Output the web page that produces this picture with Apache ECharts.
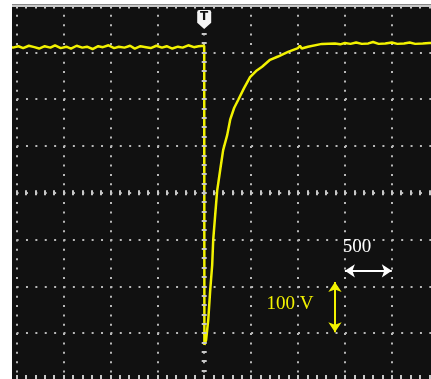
<!DOCTYPE html>
<html><head><meta charset="utf-8">
<script src="https://cdn.jsdelivr.net/npm/echarts@6/dist/echarts.min.js"></script>
<style>html,body{margin:0;padding:0;background:#fff;}#c{width:431px;height:379px;}</style>
</head><body><div id="c"></div>
<script>
// time in microseconds (0 = trigger), voltage in volts
const timeUs = [-2100,-2040,-1980,-1930,-1870,-1810,-1760,-1700,-1640,-1590,-1530,-1470,-1420,-1360,-1300,-1250,-1190,-1130,-1080,-1020,-960,-910,-850,-790,-740,-680,-620,-570,-510,-450,-400,-340,-280,-230,-170,-110,-60,0,
  2,20,43,64,85,96,117,138,170,202,245,277,319,362,426,489,553,617,702,787,894,1000,1020,1040,1106,1255,1394,
  1450,1500,1560,1620,1680,1750,1800,1860,1930,2000,2060,2130,2190,2250,2330,2400,2500];
const voltsV = [314,310,313,309,314,311,308,313,310,315,309,312,308,314,310,312,307,313,311,315,309,312,310,314,308,313,311,309,314,310,313,308,312,310,315,311,313,314,
  -325,-315,-272,-208,-155,-101,-48,4,48,91,123,156,181,198,224,247,260,269,284,291,301,309,314,308,312,318,319,
  317,320,318,321,318,319,322,318,319,321,318,319,321,318,319,320,319];
const timeDiv = 500;      // µs per division
const voltDiv = 100;      // V per division
const timeLabel = '500';
const voltLabel = '100 V';
const triggerLabel = 'T';

const series = timeUs.map((t, i) => [t, voltsV[i]]);
const tickCol = '#c8c8c8';
const dotCol = '#b8b8b8';
const hide = {axisLabel:{show:false}, splitLine:{show:false}};
const noLine = {show:false, onZero:false};

const chart = echarts.init(document.getElementById('c'), null, {renderer:'canvas'});
chart.setOption({
  animation: false,
  backgroundColor: '#111111',
  grid: {left: -30.3, top: 5.5, width: 469, height: 374.4, containLabel: false, outerBoundsMode: 'none'},
  xAxis: [
    {type:'value', min:-5*timeDiv, max:5*timeDiv, interval:timeDiv, position:'bottom',
     axisLine:noLine, axisLabel:{show:false},
     axisTick:{show:true, inside:true, length:5, lineStyle:{color:tickCol, width:2}},
     minorTick:{show:true, splitNumber:5, length:5, lineStyle:{color:tickCol, width:2}},
     splitLine:{show:true, lineStyle:{color:dotCol, width:2, type:[2,7.36]}}},
    Object.assign({type:'value', min:-5*timeDiv, max:5*timeDiv, interval:timeDiv, position:'top'}, hide, {
     axisLine:{show:true, onZero:false, lineStyle:{color:tickCol, width:2}},
     axisTick:{show:true, inside:true, length:3, lineStyle:{color:tickCol, width:2}},
     minorTick:{show:true, splitNumber:5, length:3, lineStyle:{color:tickCol, width:2}}}),
    Object.assign({type:'value', min:-5*timeDiv, max:5*timeDiv, interval:timeDiv, position:'top', offset:-184.7, z:3}, hide, {
     axisLine:noLine,
     axisTick:{show:true, inside:true, length:5, lineStyle:{color:tickCol, width:2}},
     minorTick:{show:true, splitNumber:5, length:5, lineStyle:{color:tickCol, width:2}}})
  ],
  yAxis: [
    {type:'value', min:-4*voltDiv, max:4*voltDiv, interval:voltDiv, position:'left',
     axisLine:noLine, axisLabel:{show:false}, axisTick:{show:false},
     splitLine:{show:true, lineStyle:{color:dotCol, width:2, type:[2,7.38]}}},
    Object.assign({type:'value', min:-4*voltDiv, max:4*voltDiv, interval:voltDiv, position:'left', offset:-232, z:3}, hide, {
     axisLine:noLine,
     axisTick:{show:true, inside:true, length:5, lineStyle:{color:tickCol, width:2}},
     minorTick:{show:true, splitNumber:5, length:5, lineStyle:{color:tickCol, width:2}}})
  ],
  series: [{
    type:'line', xAxisIndex:0, yAxisIndex:0, data: series, showSymbol:false, symbol:'none',
    lineStyle:{color:'#f2f200', width:2.5}, z:2,
    markLine: {
      silent:true, animation:false, symbol:['arrow','arrow'], symbolSize:[10,10],
      label:{show:false},
      data: [
        [{coord:[3*timeDiv,-167], lineStyle:{color:'#ffffff', width:2, type:'solid'}, itemStyle:{color:'#ffffff'}}, {coord:[4*timeDiv,-167]}],
        [{coord:[1394,-191], lineStyle:{color:'#f2f200', width:2, type:'solid'}, itemStyle:{color:'#f2f200'}}, {coord:[1394,-298]}]
      ]
    },
    markPoint: {
      silent:true, animation:false,
      data: [
        {coord:[0,370], symbol:'path://M2,0 L12,0 Q14,0 14,2 L14,12 L7,18 L0,12 L0,2 Q0,0 2,0 Z', symbolSize:[14,19],
         itemStyle:{color:'#f4f4f4'},
         label:{show:true, formatter:triggerLabel, color:'#111', fontWeight:'bold', fontSize:12, fontFamily:'DejaVu Sans', offset:[0,-3]}},
        {coord:[1628,-116], symbol:'circle', symbolSize:0,
         label:{show:true, formatter:timeLabel, color:'#ffffff', fontSize:19, fontFamily:'Liberation Serif'}},
        {coord:[915,-238], symbol:'circle', symbolSize:0,
         label:{show:true, formatter:voltLabel, color:'#f2f200', fontSize:19, fontFamily:'Liberation Serif'}}
      ]
    }
  }],
  graphic: [
    {type:'rect', shape:{x:0, y:0, width:431, height:4.5}, style:{fill:'#ffffff'}, z:100, silent:true},
    {type:'rect', shape:{x:0, y:0, width:12, height:379}, style:{fill:'#ffffff'}, z:100, silent:true}
  ]
});
</script></body></html>
